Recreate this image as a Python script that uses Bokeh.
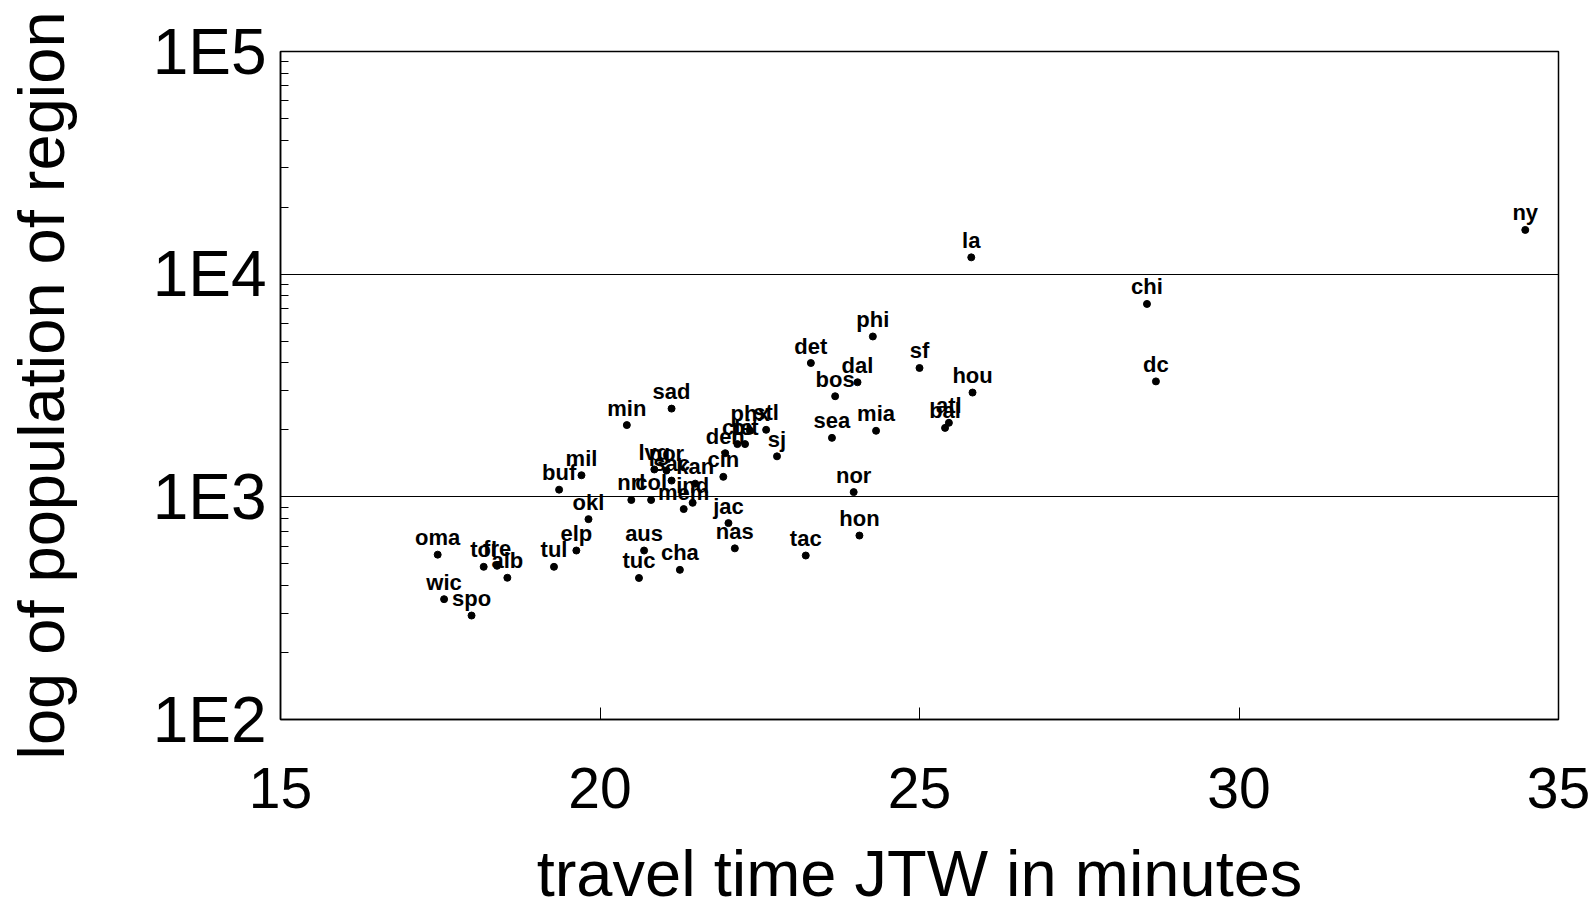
from bokeh.plotting import figure
from bokeh.models import ColumnDataSource, FixedTicker
from bokeh.core.properties import value
from bokeh.embed import file_html
from bokeh.resources import INLINE

# ---- data ----
cities = ["ny", "la", "chi", "dc", "phi", "det", "dal", "bos", "sf", "hou",
          "atl", "bal", "mia", "sea", "nor", "hon", "tac", "sad", "min", "phx",
          "stl", "cle", "pit", "den", "sj", "lvg", "por", "sac", "kan", "cin",
          "mil", "buf", "okl", "nrl", "col", "ind", "mem", "jac", "nas", "aus",
          "tuc", "cha", "elp", "tul", "oma", "tol", "fre", "alb", "wic", "spo"]
travel_time = [34.48, 25.81, 28.56, 28.70, 24.27, 23.30, 24.03, 23.68, 25.00, 25.83,
               25.46, 25.40, 24.32, 23.63, 23.97, 24.06, 23.22, 21.12, 20.42, 22.35,
               22.60, 22.15, 22.27, 21.96, 22.77, 20.85, 21.04, 21.12, 21.49, 21.93,
               19.71, 19.36, 19.82, 20.49, 20.80, 21.45, 21.31, 22.01, 22.11, 20.69,
               20.61, 21.25, 19.63, 19.28, 17.46, 18.18, 18.39, 18.55, 17.56, 17.99]
population = [15800, 11900, 7350, 3300, 5250, 3990, 3270, 2830, 3790, 2940,
              2150, 2040, 1980, 1840, 1050, 670, 545, 2490, 2100, 1980,
              2000, 1725, 1725, 1570, 1520, 1327, 1313, 1183, 1146, 1230,
              1250, 1077, 794, 968, 968, 940, 881, 762, 587, 574,
              432, 470, 574, 485, 550, 485, 490, 433, 347, 293]

x_ticks = [15, 20, 25, 30, 35]
y_ticks = [100, 1000, 10000, 100000]
y_tick_labels = ["1E2", "1E3", "1E4", "1E5"]
y_minor = [m * d for d in [100, 1000, 10000] for m in range(2, 10)]

src = ColumnDataSource(data=dict(x=travel_time, y=population, name=cities))

p = figure(width=1594, height=912, x_range=(15, 35), y_range=(100, 100000),
           y_axis_type="log", output_backend="svg", toolbar_location=None,
           min_border_left=280, min_border_right=36, min_border_top=51,
           min_border_bottom=192, background_fill_color="white",
           border_fill_color="white")

p.outline_line_color = "black"
p.outline_line_width = 1.5

p.xgrid.visible = False
p.ygrid.grid_line_color = "black"
p.ygrid.grid_line_width = 1.2
p.ygrid.ticker = FixedTicker(ticks=y_ticks)

# x axis
xa = p.xaxis[0]
xa.ticker = FixedTicker(ticks=x_ticks)
xa.axis_label = "travel time JTW in minutes"
xa.axis_label_text_font = "Liberation Sans"
xa.axis_label_text_font_style = "normal"
xa.axis_label_text_font_size = "65px"
xa.axis_label_text_color = "black"
xa.axis_label_standoff = 26
xa.major_label_text_font = "Liberation Sans"
xa.major_label_text_font_size = "57px"
xa.major_label_text_color = "black"
xa.major_label_standoff = 48
xa.major_tick_in = 12
xa.major_tick_out = 0
xa.minor_tick_in = 0
xa.minor_tick_out = 0
xa.major_tick_line_color = "black"
xa.axis_line_color = "black"
xa.axis_line_width = 1.5

# y axis
ya = p.yaxis[0]
ya.ticker = FixedTicker(ticks=y_ticks, minor_ticks=y_minor)
ya.major_label_overrides = {t: lab for t, lab in zip(y_ticks, y_tick_labels)}
ya.axis_label = "log of population of region"
ya.axis_label_text_font = "Liberation Sans"
ya.axis_label_text_font_style = "normal"
ya.axis_label_text_font_size = "65px"
ya.axis_label_text_color = "black"
ya.axis_label_standoff = 72
ya.major_label_text_font = "Liberation Sans"
ya.major_label_text_font_size = "64px"
ya.major_label_text_color = "black"
ya.major_label_standoff = 14
ya.major_tick_in = 10
ya.major_tick_out = 0
ya.minor_tick_in = 8
ya.minor_tick_out = 0
ya.major_tick_line_color = "black"
ya.minor_tick_line_color = "black"
ya.axis_line_color = "black"
ya.axis_line_width = 1.5

p.scatter(x="x", y="y", source=src, size=7, color="black")
p.text(x="x", y="y", text="name", source=src,
       text_font=value("Liberation Sans"), text_font_style="bold",
       text_font_size="22px", text_align="center",
       text_baseline="alphabetic", y_offset=-17, text_color="black")

open("out.html", "w").write(file_html(p, INLINE))
